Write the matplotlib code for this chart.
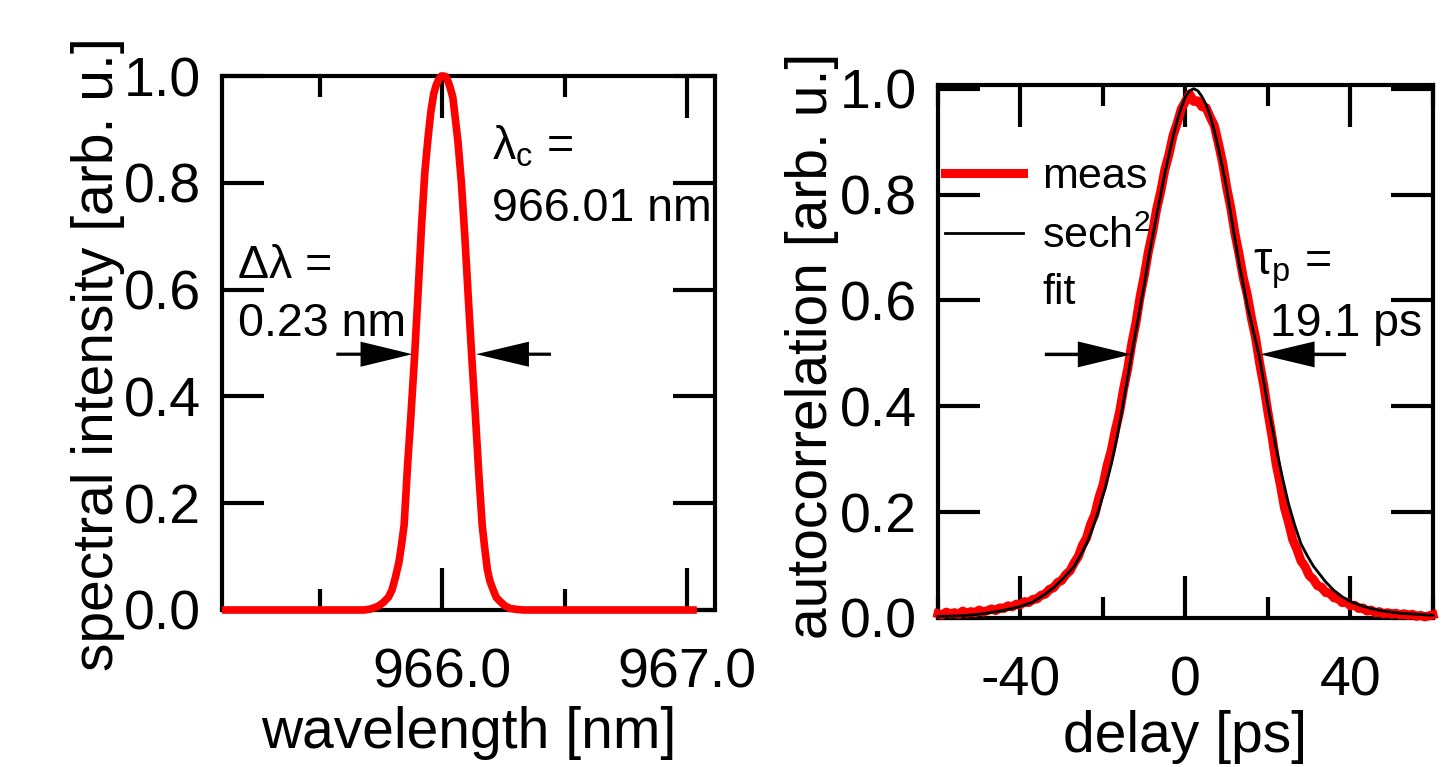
import matplotlib
matplotlib.use('Agg')
import matplotlib.pyplot as plt
from matplotlib.lines import Line2D
from matplotlib.ticker import MultipleLocator, FormatStrFormatter

plt.rcParams['font.family'] = ['Liberation Sans', 'DejaVu Sans']
plt.rcParams['mathtext.fontset'] = 'custom'
plt.rcParams['mathtext.rm'] = 'Liberation Sans'
plt.rcParams['mathtext.it'] = 'Liberation Sans:italic'
plt.rcParams['axes.unicode_minus'] = False

#######################################################################################################
# data
#######################################################################################################

# optical spectrum (left panel)
wavelength = [965.10, 965.40, 965.681, 965.709, 965.738, 965.759, 965.780, 965.795, 965.809,
              965.823, 965.834, 965.844, 965.851, 965.858, 965.872, 965.887, 965.901, 965.915,
              965.929, 965.943, 965.953, 965.965, 965.976, 965.986, 965.996, 966.004, 966.013,
              966.021, 966.031, 966.043, 966.052, 966.064, 966.078, 966.092, 966.106, 966.120,
              966.135, 966.149, 966.163, 966.173, 966.184, 966.194, 966.205, 966.220, 966.234,
              966.255, 966.276, 966.305, 966.333, 966.70, 967.04]
spectrum = [0.0, 0.0, 0.0, 0.002, 0.007, 0.014, 0.024, 0.038, 0.062,
            0.090, 0.124, 0.159, 0.214, 0.270, 0.366, 0.477, 0.594, 0.718,
            0.822, 0.890, 0.932, 0.967, 0.984, 0.994, 1.0, 1.0, 0.999,
            0.993, 0.980, 0.960, 0.925, 0.877, 0.800, 0.700, 0.587, 0.477,
            0.366, 0.256, 0.159, 0.117, 0.076, 0.055, 0.041, 0.024, 0.017,
            0.008, 0.003, 0.001, 0.0, 0.0, 0.0]

# autocorrelation trace, measured (right panel), 1 ps steps
delay_meas = list(range(-60, 61))
ac_meas = [0.008, 0.006, 0.011, 0.008, 0.010, 0.007, 0.013, 0.009, 0.012, 0.010,
           0.015, 0.011, 0.014, 0.017, 0.014, 0.019, 0.018, 0.023, 0.021, 0.026,
           0.025, 0.031, 0.029, 0.035, 0.036, 0.043, 0.045, 0.054, 0.057, 0.067,
           0.071, 0.082, 0.089, 0.104, 0.116, 0.137, 0.151, 0.177, 0.195, 0.227,
           0.251, 0.288, 0.316, 0.355, 0.388, 0.433, 0.471, 0.519, 0.558, 0.607,
           0.646, 0.692, 0.728, 0.772, 0.806, 0.847, 0.876, 0.912, 0.935, 0.962,
           0.976, 0.990, 0.976, 0.977, 0.966, 0.964, 0.946, 0.930, 0.896, 0.860,
           0.813, 0.774, 0.726, 0.687, 0.643, 0.610, 0.566, 0.529, 0.480, 0.438,
           0.388, 0.342, 0.290, 0.252, 0.208, 0.180, 0.148, 0.130, 0.108, 0.097,
           0.080, 0.073, 0.061, 0.058, 0.048, 0.047, 0.038, 0.037, 0.029, 0.030,
           0.023, 0.024, 0.018, 0.019, 0.013, 0.015, 0.010, 0.012, 0.008, 0.010,
           0.007, 0.009, 0.006, 0.008, 0.005, 0.007, 0.003, 0.005, 0.002, 0.004,
           0.006]

# sech^2 fit (right panel)
delay_fit = [-60, -55, -50, -45, -42, -40, -37, -34, -32, -30, -29, -27, -25.5, -24, -22.5,
             -21, -19.5, -18, -16.5, -15, -13, -11.5, -10, -8.5, -7, -6, -5, -4, -3, -2, -1,
             0, 1, 2, 3, 4, 5, 6, 7, 8, 9, 10, 11, 12, 13, 14, 15, 16.5, 18, 19, 20, 21, 22,
             23.5, 25, 26.5, 28, 29.5, 31, 32.5, 34, 36, 38, 40, 42, 44, 46, 48, 50, 52, 55,
             57, 60]
ac_fit = [0.003, 0.004, 0.007, 0.013, 0.018, 0.022, 0.030, 0.045, 0.057, 0.072, 0.080,
          0.097, 0.118, 0.140, 0.170, 0.205, 0.245, 0.290, 0.345, 0.410, 0.500, 0.565,
          0.630, 0.700, 0.760, 0.800, 0.840, 0.875, 0.910, 0.940, 0.965, 0.985, 0.996,
          1.0, 0.996, 0.985, 0.970, 0.948, 0.920, 0.887, 0.850, 0.810, 0.762, 0.715,
          0.670, 0.630, 0.590, 0.540, 0.490, 0.445, 0.400, 0.360, 0.320, 0.265, 0.215,
          0.175, 0.140, 0.118, 0.098, 0.083, 0.068, 0.052, 0.040, 0.031, 0.025, 0.020,
          0.016, 0.013, 0.011, 0.009, 0.0075, 0.0065, 0.005]

#######################################################################################################
# figure
#######################################################################################################

fsize = 40      # tick labels
lsize = 41      # axis labels
afs = 33.5      # annotations
fig = plt.figure(figsize=(14.52, 7.67), dpi=100)
ax1 = fig.add_axes([0.1529, 0.2047, 0.3395, 0.6962])
ax2 = fig.add_axes([0.646, 0.1943, 0.3409, 0.6949])


def style_axes(ax):
    for sp in ax.spines.values():
        sp.set_linewidth(3)
    ax.tick_params(which='both', direction='in', top=True, right=True, width=3,
                   labelsize=fsize, colors='k')
    ax.tick_params(which='major', length=30)
    ax.tick_params(which='minor', length=15)
    ax.tick_params(axis='x', pad=27)
    ax.tick_params(axis='y', pad=15)
    ax.yaxis.set_major_locator(MultipleLocator(0.2))
    ax.yaxis.set_major_formatter(FormatStrFormatter('%.1f'))


def harrow(ax, tail, tip, y, hl, hw, w):
    ax.arrow(tail, y, tip - tail, 0, width=w, head_width=hw, head_length=hl,
             length_includes_head=True, color='k', lw=0, zorder=5)


# left: spectrum
ax1.plot(wavelength, spectrum, color='red', lw=5.5, solid_joinstyle='round',
         solid_capstyle='butt', clip_on=False, zorder=3)
ax1.set_xlim(965.10, 967.114)
ax1.set_ylim(0, 1.0)
style_axes(ax1)
ax1.xaxis.set_major_locator(MultipleLocator(1.0))
ax1.xaxis.set_minor_locator(MultipleLocator(0.5))
ax1.xaxis.set_major_formatter(FormatStrFormatter('%.1f'))
ax1.set_xlabel('wavelength [nm]', fontsize=lsize, labelpad=5)
ax1.set_ylabel('spectral intensity [arb. u.]', fontsize=lsize)
ax1.yaxis.set_label_coords(-0.197, 0.479)

harrow(ax1, 965.567, 965.878, 0.479, 0.212, 0.047, 0.006)
harrow(ax1, 966.444, 966.138, 0.479, 0.216, 0.047, 0.006)
ax1.text(966.204, 0.843, 'λ$_\\mathrm{c}$ =', fontsize=afs, va='baseline', ha='left')
ax1.text(966.204, 0.728, '966.01 nm', fontsize=afs, va='baseline', ha='left')
ax1.text(965.167, 0.622, 'Δλ =', fontsize=afs, va='baseline', ha='left')
ax1.text(965.167, 0.513, '0.23 nm', fontsize=afs, va='baseline', ha='left')

# right: autocorrelation
ax2.plot(delay_meas, ac_meas, color='red', lw=6.5, solid_joinstyle='round',
         clip_on=False, zorder=3)
ax2.plot(delay_fit, ac_fit, color='k', lw=2.0, solid_joinstyle='round',
         clip_on=False, zorder=4)
ax2.set_xlim(-60, 60)
ax2.set_ylim(0, 1.007)
style_axes(ax2)
ax2.xaxis.set_major_locator(MultipleLocator(40))
ax2.xaxis.set_minor_locator(MultipleLocator(20))
ax2.set_xlabel('delay [ps]', fontsize=lsize, labelpad=2)
ax2.set_ylabel('autocorrelation [arb. u.]', fontsize=lsize)
ax2.yaxis.set_label_coords(-0.200, 0.51)

harrow(ax2, -34.1, -13.1, 0.498, 13.0, 0.049, 0.0065)
harrow(ax2, 38.9, 18.1, 0.498, 13.2, 0.049, 0.0065)
ax2.text(16.4, 0.649, 'τ$_\\mathrm{p}$ =', fontsize=afs, va='baseline', ha='left')
ax2.text(20.5, 0.533, '19.1 ps', fontsize=afs, va='baseline', ha='left')

handles = [Line2D([], [], color='red', lw=6.5),
           Line2D([], [], color='k', lw=2.0)]
ax2.legend(handles, ['meas', 'sech$^2$'], fontsize=31, frameon=False,
           loc='upper left', bbox_to_anchor=(0.014, 0.865), borderpad=0, borderaxespad=0,
           handlelength=1.81, handletextpad=0.44, labelspacing=0.46)
# second line of the fit label
ax2.text(-34.8, 0.593, 'fit', fontsize=31, va='baseline', ha='left')

plt.savefig('out.png', dpi=100)
